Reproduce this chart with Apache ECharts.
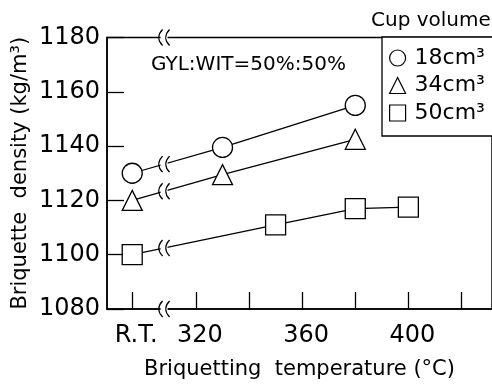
<!DOCTYPE html>
<html>
<head>
<meta charset="utf-8">
<script src="https://cdn.jsdelivr.net/npm/echarts@6/dist/echarts.min.js"></script>
<style>
  html, body { margin: 0; padding: 0; background: #fff; }
  #chart { width: 492px; height: 385px; }
</style>
</head>
<body>
<div id="chart"></div>
<script>
// room temperature is drawn left of the axis break
const RT = 296;
const breakX = 308;

const tickValues = [RT, 320, 340, 360, 380, 400, 420];
const labelValues = [RT, 320, 360, 400];

const seriesNames = ['18cm³', '34cm³', '50cm³'];
const symbols = ['circle', 'triangle', 'rect'];

const temp18 = [RT, 330, 380];
const dens18 = [1130, 1139.5, 1155];
const temp34 = [RT, 330, 380];
const dens34 = [1120, 1129.5, 1142.5];
const temp50 = [RT, 350, 380, 400];
const dens50 = [1100, 1111, 1117, 1117.5];

const temps = [temp18, temp34, temp50];
const dens = [dens18, dens34, dens50];

const FONT = 'DejaVu Sans';

const chart = echarts.init(document.getElementById('chart'));

const lineSeries = seriesNames.map((name, i) => ({
  name: name,
  type: 'line',
  data: temps[i].map((t, j) => [t, dens[i][j]]),
  symbol: symbols[i],
  symbolSize: 20,
  lineStyle: { color: '#000', width: 1.3 },
  itemStyle: { color: '#fff', borderColor: '#000', borderWidth: 1.3 },
  z: 3,
  animation: false
}));

// break marks: top axis, bottom axis and the first segment of every line
const breakData = [[breakX, 1180, breakX, 1180], [breakX, 1080, breakX, 1080]];
temps.forEach((t, i) => {
  breakData.push([t[0], dens[i][0], t[1], dens[i][1]]);
});

function renderBreak(params, api) {
  const p1 = api.coord([api.value(0), api.value(1)]);
  const p2 = api.coord([api.value(2), api.value(3)]);
  const bx = api.coord([breakX, api.value(1)])[0];
  const t = p2[0] === p1[0] ? 0 : (bx - p1[0]) / (p2[0] - p1[0]);
  const by = p1[1] + t * (p2[1] - p1[1]);
  const curve = cx => ({
    type: 'bezierCurve',
    shape: { x1: cx + 2, y1: by - 8, cpx1: cx - 3, cpy1: by - 3, cpx2: cx - 3, cpy2: by + 3, x2: cx + 2, y2: by + 8 },
    style: { stroke: '#000', lineWidth: 1.3, fill: null }
  });
  return {
    type: 'group',
    children: [
      { type: 'rect', shape: { x: bx - 3.5, y: by - 5, width: 7, height: 10 }, style: { fill: '#fff' } },
      curve(bx - 3.5),
      curve(bx + 3.5)
    ]
  };
}

const option = {
  backgroundColor: '#fff',
  animation: false,
  grid: {
    left: 107, top: 37.5, width: 399, height: 275.5,
    show: true, borderColor: '#000', borderWidth: 1.5
  },
  xAxis: {
    type: 'value',
    min: 286.5,
    max: 431.5,
    splitLine: { show: false },
    axisLine: { lineStyle: { color: '#000', width: 1.5 } },
    axisTick: { inside: true, length: 17, customValues: tickValues, lineStyle: { color: '#000', width: 1.3 } },
    axisLabel: {
      customValues: labelValues,
      formatter: v => (v === RT ? 'R.T.' : String(v)),
      color: '#000', fontFamily: FONT, fontSize: 24, margin: 15, padding: [0, 0, 0, 8]
    },
    name: 'Briquetting  temperature (°C)',
    nameLocation: 'middle',
    nameGap: 50,
    nameMoveOverlap: false,
    nameTextStyle: { color: '#000', fontFamily: FONT, fontSize: 21 }
  },
  yAxis: {
    type: 'value',
    min: 1080,
    max: 1180,
    interval: 20,
    splitLine: { show: false },
    axisLine: { show: true, lineStyle: { color: '#000', width: 1.5 } },
    axisTick: { show: true, inside: true, length: 17, lineStyle: { color: '#000', width: 1.3 } },
    axisLabel: { color: '#000', fontFamily: FONT, fontSize: 24, margin: 7, formatter: v => String(v) },
    name: 'Briquette  density (kg/m³)',
    nameLocation: 'middle',
    nameRotate: 90,
    nameGap: 76,
    nameMoveOverlap: false,
    nameTextStyle: { color: '#000', fontFamily: FONT, fontSize: 21 }
  },
  legend: {
    orient: 'vertical',
    left: 382,
    top: 37,
    padding: [10, 10, 12, 7],
    backgroundColor: '#fff',
    borderColor: '#000',
    borderWidth: 1.3,
    itemWidth: 16,
    itemHeight: 16,
    itemGap: 5.5,
    data: seriesNames.map((n, i) => ({
      name: n,
      icon: symbols[i],
      itemStyle: { color: '#fff', borderColor: '#000', borderWidth: 1.2 }
    })),
    textStyle: { color: '#000', fontFamily: FONT, fontSize: 22, lineHeight: 22, padding: [0, 0, 0, 4] }
  },
  graphic: [
    {
      type: 'text', left: 371, top: 11,
      style: { text: 'Cup volume', fill: '#000', font: '20px "DejaVu Sans"' }
    },
    {
      type: 'text', left: 151, top: 55,
      style: { text: 'GYL:WIT=50%:50%', fill: '#000', font: '20px "DejaVu Sans"' }
    }
  ],
  series: lineSeries.concat([{
    type: 'custom',
    renderItem: renderBreak,
    data: breakData,
    encode: { x: [0, 2], y: [1, 3] },
    silent: true,
    clip: false,
    z: 10
  }])
};

chart.setOption(option);
</script>
</body>
</html>
